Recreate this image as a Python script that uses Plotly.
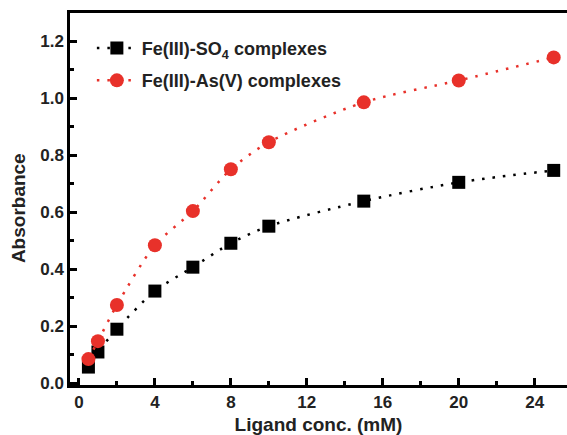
import plotly.graph_objects as go

# Ligand concentration (mM)
conc = [0.5, 1, 2, 4, 6, 8, 10, 15, 20, 25]

# Absorbance of the two complex series
abs_so4 = [0.056, 0.109, 0.189, 0.323, 0.407, 0.491, 0.551, 0.639, 0.705, 0.747]
abs_as = [0.084, 0.147, 0.274, 0.484, 0.604, 0.751, 0.846, 0.986, 1.063, 1.144]

series_names = ["Fe(III)-SO<sub>4</sub> complexes", "Fe(III)-As(V) complexes"]

x_ticks = [0, 4, 8, 12, 16, 20, 24]
y_ticks = [0.0, 0.2, 0.4, 0.6, 0.8, 1.0, 1.2]

FONT = "Liberation Sans, Arial, sans-serif"

fig = go.Figure()
fig.add_trace(go.Scatter(
    x=conc, y=abs_so4, name=series_names[0], mode="lines+markers",
    line=dict(color="black", width=2.5, dash="2.5px,8px", shape="spline", smoothing=0.8),
    marker=dict(symbol="square", size=13, color="black"),
    legendgroup="a",
))
fig.add_trace(go.Scatter(
    x=conc, y=abs_as, name=series_names[1], mode="lines+markers",
    line=dict(color="#e8312a", width=2.5, dash="2.5px,8px", shape="spline", smoothing=0.8),
    marker=dict(symbol="circle", size=14, color="#e8312a"),
    legendgroup="b",
))

fig.update_layout(
    width=567, height=435,
    margin=dict(l=70, r=0, t=13, b=50),
    plot_bgcolor="white", paper_bgcolor="white",
    font=dict(family=FONT, size=14, color="black", weight="bold"),
    showlegend=True,
    legend=dict(
        x=0.044, y=0.955, xanchor="left", yanchor="top",
        bgcolor="rgba(0,0,0,0)", tracegroupgap=6,
        font=dict(family=FONT, size=18, weight="bold", color="#222"),
        itemwidth=40,
    ),
    annotations=[dict(
        text="Absorbance", textangle=-90,
        xref="paper", yref="paper", x=-0.105, y=0.475,
        xanchor="center", yanchor="middle", showarrow=False,
        font=dict(family=FONT, size=19, weight="bold", color="#222"),
    )],
)
fig.update_xaxes(
    range=[-0.47, 25.7],
    tickvals=x_ticks, ticktext=[str(v) for v in x_ticks],
    ticks="inside", ticklen=7, tickwidth=2.5, tickcolor="black",
    minor=dict(dtick=2, ticks="inside", ticklen=4, tickwidth=2.5, tickcolor="black"),
    showline=True, linewidth=2.5, linecolor="black", mirror=True,
    showgrid=False, zeroline=False,
    tickfont=dict(size=17, weight="bold", color="#222"),
    title=dict(text="Ligand conc. (mM)", font=dict(size=19, weight="bold", color="#222"), standoff=8),
)
fig.update_yaxes(
    range=[-0.007, 1.3],
    tickvals=y_ticks, ticktext=[f"{v:.1f}" for v in y_ticks],
    ticks="inside", ticklen=7, tickwidth=2.5, tickcolor="black",
    minor=dict(dtick=0.1, ticks="inside", ticklen=4, tickwidth=2.5, tickcolor="black"),
    showline=True, linewidth=2.5, linecolor="black",
    showgrid=False, zeroline=False,
    tickfont=dict(size=17, weight="bold", color="#222"),
)

fig.write_html("out.html")
